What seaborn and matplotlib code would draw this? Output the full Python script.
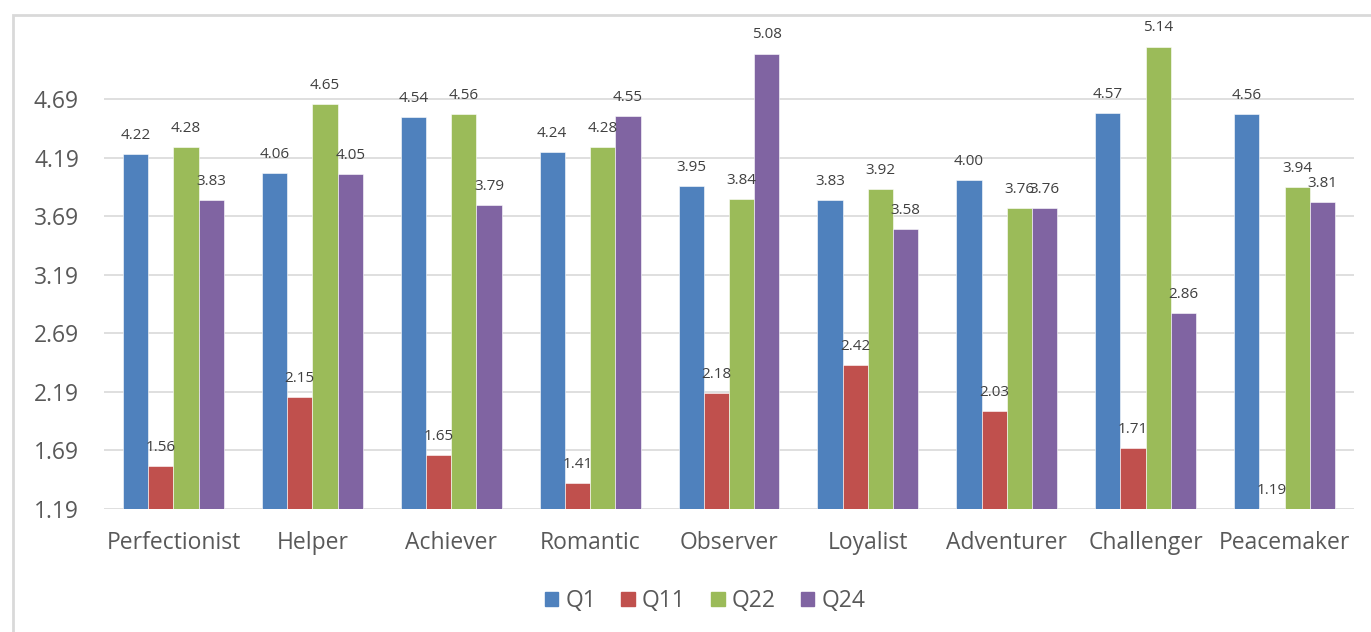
import pandas as pd
import matplotlib.pyplot as plt
import matplotlib.patches as mpatches
import seaborn as sns

types = ['Perfectionist', 'Helper', 'Achiever', 'Romantic', 'Observer',
         'Loyalist', 'Adventurer', 'Challenger', 'Peacemaker']
q1 = [4.22, 4.06, 4.54, 4.24, 3.95, 3.83, 4.00, 4.57, 4.56]
q11 = [1.56, 2.15, 1.65, 1.41, 2.18, 2.42, 2.03, 1.71, 1.19]
q22 = [4.28, 4.65, 4.56, 4.28, 3.84, 3.92, 3.76, 5.14, 3.94]
q24 = [3.83, 4.05, 3.79, 4.55, 5.08, 3.58, 3.76, 2.86, 3.81]
questions = ['Q1', 'Q11', 'Q22', 'Q24']
yticks = [1.19, 1.69, 2.19, 2.69, 3.19, 3.69, 4.19, 4.69]

colors = ['#4F81BD', '#C0504D', '#9BBB59', '#8064A2']

rows = []
for q, vals in zip(questions, [q1, q11, q22, q24]):
    for t, v in zip(types, vals):
        rows.append({'Type': t, 'Question': q, 'Score': v})
df = pd.DataFrame(rows)

sns.set_style('white')
plt.rcParams['font.family'] = ['Open Sans', 'DejaVu Sans']

fig = plt.figure(figsize=(13.71, 6.32), dpi=100)
ax = fig.add_axes([104 / 1371, 1 - 509 / 632, 1250 / 1371, 487 / 632])

sns.barplot(data=df, x='Type', y='Score', hue='Question', palette=colors,
            saturation=1, width=0.727, gap=0, ax=ax, legend=False,
            edgecolor='white', linewidth=0.4)

for cont in ax.containers:
    ax.bar_label(cont, fmt='%.2f', padding=8, fontsize=11, color='#404040')

ax.set_ylim(1.19, 5.35)
ax.set_xlim(-0.5, len(types) - 0.5)
ax.set_yticks(yticks)
ax.set_yticklabels([f'{t:.2f}' for t in yticks])
ax.yaxis.grid(True, color='#d9d9d9', linewidth=1.2)
ax.set_axisbelow(True)
for s in ax.spines.values():
    s.set_visible(False)
ax.tick_params(axis='both', length=0, labelsize=16.5, colors='#595959')
ax.tick_params(axis='y', pad=18)
ax.tick_params(axis='x', pad=16)
ax.set_xlabel('')
ax.set_ylabel('')

handles = [mpatches.Patch(color=c, label=q) for c, q in zip(colors, questions)]
leg = fig.legend(handles=handles, loc='center', bbox_to_anchor=(705 / 1371, 1 - 601 / 632),
                 ncol=4, frameon=False, fontsize=16.5, handlelength=0.6, handleheight=0.6,
                 handletextpad=0.3, columnspacing=1.1)
for txt in leg.get_texts():
    txt.set_color('#595959')

# outer chart frame (cropped at right and bottom)
frame = mpatches.Rectangle((13 / 1371, -0.1), 1.2, (632 - 15) / 632 + 0.1,
                           transform=fig.transFigure, fill=False,
                           edgecolor='#d9d9d9', linewidth=2, clip_on=False)
fig.add_artist(frame)

plt.savefig('out.png', dpi=100)
